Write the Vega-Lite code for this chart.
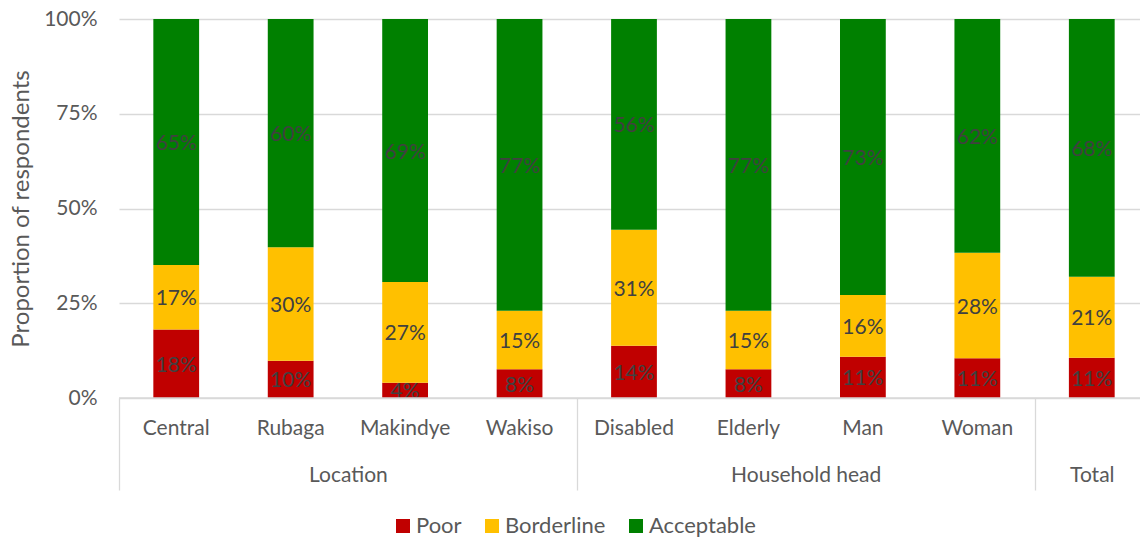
{
  "$schema": "https://vega.github.io/schema/vega-lite/v6.json",
  "autosize": {"type": "none"},
  "padding": {"left": 119, "top": 19, "right": 0, "bottom": 141},
  "width": 1030,
  "height": 379,
  "background": "white",
  "config": {
    "view": {"stroke": null},
    "font": "Lato",
    "axis": {"labelFont": "Lato", "titleFont": "Lato", "labelColor": "#595959", "titleColor": "#595959", "labelFontSize": 21, "titleFontSize": 24, "titleFontWeight": "normal"},
    "legend": {"labelFont": "Lato", "labelFontSize": 22, "labelColor": "#595959"}
  },
  "data": {"values": [
    {"cat": "Central", "level": "Poor", "k": 1, "v": 0.181},
    {"cat": "Central", "level": "Borderline", "k": 2, "v": 0.170},
    {"cat": "Central", "level": "Acceptable", "k": 3, "v": 0.649},
    {"cat": "Rubaga", "level": "Poor", "k": 1, "v": 0.098},
    {"cat": "Rubaga", "level": "Borderline", "k": 2, "v": 0.300},
    {"cat": "Rubaga", "level": "Acceptable", "k": 3, "v": 0.602},
    {"cat": "Makindye", "level": "Poor", "k": 1, "v": 0.040},
    {"cat": "Makindye", "level": "Borderline", "k": 2, "v": 0.266},
    {"cat": "Makindye", "level": "Acceptable", "k": 3, "v": 0.694},
    {"cat": "Wakiso", "level": "Poor", "k": 1, "v": 0.076},
    {"cat": "Wakiso", "level": "Borderline", "k": 2, "v": 0.154},
    {"cat": "Wakiso", "level": "Acceptable", "k": 3, "v": 0.770},
    {"cat": "Disabled", "level": "Poor", "k": 1, "v": 0.138},
    {"cat": "Disabled", "level": "Borderline", "k": 2, "v": 0.306},
    {"cat": "Disabled", "level": "Acceptable", "k": 3, "v": 0.556},
    {"cat": "Elderly", "level": "Poor", "k": 1, "v": 0.076},
    {"cat": "Elderly", "level": "Borderline", "k": 2, "v": 0.154},
    {"cat": "Elderly", "level": "Acceptable", "k": 3, "v": 0.770},
    {"cat": "Man", "level": "Poor", "k": 1, "v": 0.109},
    {"cat": "Man", "level": "Borderline", "k": 2, "v": 0.163},
    {"cat": "Man", "level": "Acceptable", "k": 3, "v": 0.728},
    {"cat": "Woman", "level": "Poor", "k": 1, "v": 0.105},
    {"cat": "Woman", "level": "Borderline", "k": 2, "v": 0.278},
    {"cat": "Woman", "level": "Acceptable", "k": 3, "v": 0.617},
    {"cat": "Total", "level": "Poor", "k": 1, "v": 0.106},
    {"cat": "Total", "level": "Borderline", "k": 2, "v": 0.214},
    {"cat": "Total", "level": "Acceptable", "k": 3, "v": 0.680}
  ]},
  "layer": [
    {
      "layer": [
        {
          "mark": {"type": "bar"},
          "encoding": {
            "x": {
              "field": "cat", "type": "nominal",
              "sort": ["Central", "Rubaga", "Makindye", "Wakiso", "Disabled", "Elderly", "Man", "Woman", "Total"],
              "scale": {"paddingInner": 0.6, "paddingOuter": 0.3},
              "axis": {"title": null, "labelAngle": 0, "ticks": false, "domain": false, "labelPadding": 19, "labelColor": "#595959", "labelExpr": "datum.value == 'Total' ? '' : datum.label"}
            },
            "y": {
              "field": "v", "type": "quantitative", "stack": "normalize",
              "scale": {"domain": [0, 1], "nice": false},
              "axis": {"title": "Proportion of respondents", "values": [0, 0.25, 0.5, 0.75, 1], "format": ".0%", "ticks": false, "domain": false, "grid": true, "gridColor": "#d9d9d9", "gridWidth": 1.3, "labelPadding": 22, "titlePadding": 10}
            },
            "color": {
              "field": "level", "type": "nominal",
              "scale": {"domain": ["Poor", "Borderline", "Acceptable"], "range": ["#C00000", "#FFC000", "#008000"]},
              "legend": {"title": null, "orient": "none", "direction": "horizontal", "legendX": 273, "legendY": 496, "symbolType": "square", "symbolSize": 196, "symbolStrokeWidth": 0, "columnPadding": 19, "labelOffset": 2}
            },
            "order": {"field": "k", "type": "quantitative"}
          }
        },
        {
          "mark": {"type": "text", "fontSize": 21, "color": "#404040", "font": "Lato", "dy": 2},
          "encoding": {
            "x": {"field": "cat", "type": "nominal", "sort": ["Central", "Rubaga", "Makindye", "Wakiso", "Disabled", "Elderly", "Man", "Woman", "Total"]},
            "y": {"field": "v", "type": "quantitative", "stack": "normalize", "bandPosition": 0.5},
            "detail": {"field": "level"},
            "order": {"field": "k", "type": "quantitative"},
            "text": {"field": "v", "type": "quantitative", "format": ".0%"}
          }
        }
      ]
    },
    {
      "data": {"values": [{}]},
      "mark": {"type": "rule", "color": "#d9d9d9", "strokeWidth": 1.3},
      "encoding": {
        "x": {
          "datum": 0, "type": "quantitative",
          "scale": {"domain": [0, 9], "nice": false, "zero": false},
          "axis": {
            "orient": "bottom", "title": null, "grid": false, "domain": false,
            "values": [0, 2, 4, 6, 8, 8.5, 9],
            "tickSize": 92, "tickColor": "#d9d9d9", "tickWidth": 1.3,
            "tickOpacity": {"condition": {"test": "datum.value == 2 || datum.value == 6 || datum.value == 8.5", "value": 0}, "value": 1},
            "labelExpr": "datum.value == 2 ? 'Location' : datum.value == 6 ? 'Household head' : datum.value == 8.5 ? 'Total' : ''",
            "labelPadding": -26, "labelFlush": false, "labelOverlap": false
          }
        },
        "x2": {"datum": 9},
        "y": {"datum": 0, "type": "quantitative"}
      }
    }
  ],
  "resolve": {"scale": {"x": "independent"}, "axis": {"x": "independent"}}
}
